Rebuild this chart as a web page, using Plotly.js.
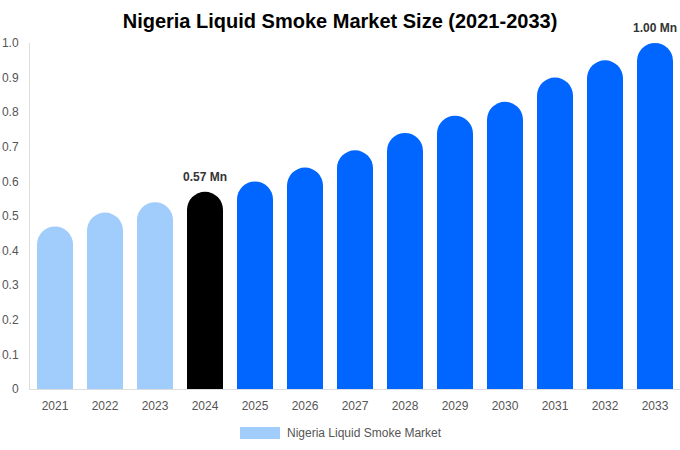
<!DOCTYPE html>
<html>
<head>
<meta charset="utf-8">
<script src="https://cdn.plot.ly/plotly-3.0.1.min.js"></script>
<style>
  html, body { margin: 0; padding: 0; background: #fff; }
  #chart { width: 680px; height: 450px; }
</style>
</head>
<body>
<div id="chart"></div>
<script>
// market size by year, in Mn
const years = ["2021", "2022", "2023", "2024", "2025", "2026", "2027", "2028", "2029", "2030", "2031", "2032", "2033"];
const marketSize = [0.47, 0.51, 0.54, 0.57, 0.60, 0.64, 0.69, 0.74, 0.79, 0.83, 0.90, 0.95, 1.00];
const barColors = ["#a0cdfc", "#a0cdfc", "#a0cdfc", "#000000", "#0066ff", "#0066ff", "#0066ff",
  "#0066ff", "#0066ff", "#0066ff", "#0066ff", "#0066ff", "#0066ff"];
const labelledYears = ["2024", "2033"];
const yTicks = [0, 0.1, 0.2, 0.3, 0.4, 0.5, 0.6, 0.7, 0.8, 0.9, 1.0];
const yTickText = ["0", "0.1", "0.2", "0.3", "0.4", "0.5", "0.6", "0.7", "0.8", "0.9", "1.0"];
const seriesName = "Nigeria Liquid Smoke Market";

const FONT = "Liberation Sans, Arial, sans-serif";

const trace = {
  type: "bar",
  name: seriesName,
  x: years,
  y: marketSize,
  marker: { color: barColors, cornerradius: "50%" },
  hoverinfo: "x+y",
  showlegend: false,
};

// category axis: annotations take the category index
const valueLabels = labelledYears.map((yr) => {
  const i = years.indexOf(yr);
  const v = marketSize[i];
  return {
    x: i,
    y: v,
    xref: "x",
    yref: "y",
    text: "<b>" + v.toFixed(2) + " Mn</b>",
    showarrow: false,
    yanchor: "bottom",
    yshift: 6,
    font: { family: FONT, size: 12, color: "#333" },
  };
});

// hand-made legend so the swatch is wide like the reference
const px = (p) => (p - 30) / 650;
const py = (p) => (389 - p) / 346;

const legendText = {
  x: px(285),
  y: py(433),
  xref: "paper",
  yref: "paper",
  xanchor: "left",
  yanchor: "middle",
  text: seriesName,
  showarrow: false,
  font: { family: FONT, size: 12, color: "#555" },
};

const layout = {
  width: 680,
  height: 450,
  paper_bgcolor: "#fff",
  plot_bgcolor: "#fff",
  margin: { l: 30, r: 0, t: 43, b: 61, pad: 0 },
  title: {
    text: "<b>Nigeria Liquid Smoke Market Size (2021-2033)</b>",
    x: 0.5,
    xanchor: "center",
    y: 0.953,
    yanchor: "middle",
    font: { family: FONT, size: 20, color: "#000" },
  },
  bargap: 0.28,
  xaxis: {
    type: "category",
    range: [-0.5, years.length - 0.5],
    showgrid: false,
    showline: true,
    linecolor: "#ddd",
    linewidth: 1,
    ticks: "",
    ticklabelstandoff: 6,
    tickfont: { family: FONT, size: 12, color: "#555" },
  },
  yaxis: {
    range: [0, 1],
    tickvals: yTicks,
    ticktext: yTickText,
    showgrid: false,
    zeroline: false,
    showline: true,
    linecolor: "#ddd",
    linewidth: 1,
    ticks: "",
    ticklabelstandoff: 8,
    tickfont: { family: FONT, size: 12, color: "#555" },
  },
  shapes: [
    {
      type: "rect",
      xref: "paper",
      yref: "paper",
      x0: px(240),
      x1: px(280),
      y0: py(439),
      y1: py(427),
      fillcolor: "#a0cdfc",
      line: { width: 0 },
    },
  ],
  annotations: [...valueLabels, legendText],
  showlegend: false,
};

Plotly.newPlot("chart", [trace], layout, { displayModeBar: false, staticPlot: true });
</script>
</body>
</html>
